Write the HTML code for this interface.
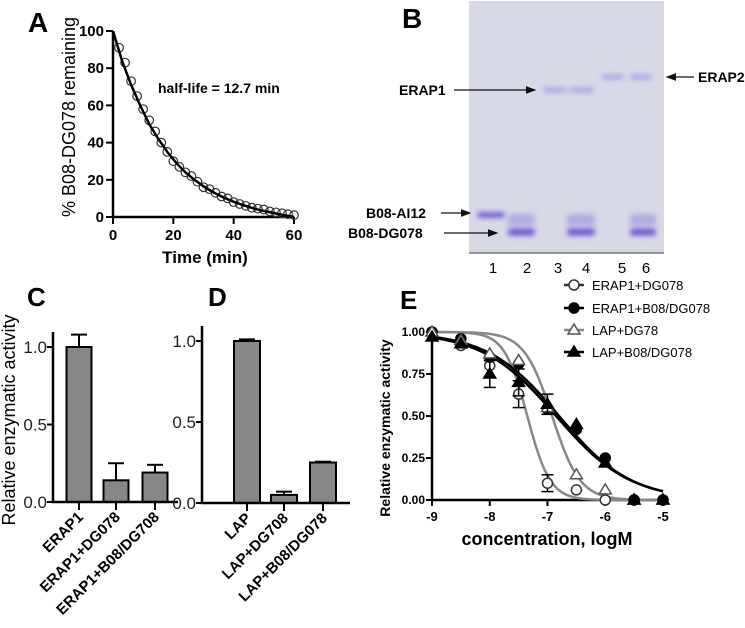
<!DOCTYPE html>
<html><head><meta charset="utf-8"><style>
html,body{margin:0;padding:0;background:#fff;}
svg{display:block;font-family:"Liberation Sans",Arial,sans-serif;}
</style></head><body>
<svg id="fig" width="745" height="628" viewBox="0 0 745 628">
<defs>
<filter id="blur" x="-30%" y="-100%" width="160%" height="300%"><feGaussianBlur stdDeviation="2.6"/></filter>
<marker id="arr" markerWidth="8" markerHeight="8" refX="7" refY="4" orient="auto"><path d="M0,1 L8,4 L0,7 Z" fill="#111"/></marker>
</defs>
<g id="panelA"></g>
<g id="panelB"></g>
<g id="panelC"></g>
<g id="panelD"></g>
<g id="panelE"></g>
</svg>
<script>
// ---- Panel A data ----
const aTimes = [2,4,6,8,10,12,14,16,18,20,22,24,26,28,30,32,34,36,38,40,42,44,46,48,50,52,54,56,58,60];
const aValues = [91,83,73,65,58,52,46,40,35,30,27,24,22,19,16,15,13,11,10,8,7,6,5,4.5,4,3,2.5,2,1.5,1];
const aFitT = [0,3,6,9,12,15,18,21,24,27,30,33,36,39,42,45,48,51,54,57,60];
const aFitV = [100,84,71,60,50,42,35,29,24,20,16.5,13.5,11,8.8,7,5.4,4,2.9,1.9,0.9,0];
const aXTicks = [0,20,40,60];
const aYTicks = [0,20,40,60,80,100];
// ---- Panel C/D data ----
const cCats = ["ERAP1","ERAP1+DG078","ERAP1+B08/DG708"];
const cVals = [1.0,0.14,0.19];
const cErr = [0.08,0.11,0.05];
const dCats = ["LAP","LAP+DG708","LAP+B08/DG078"];
const dVals = [1.0,0.05,0.25];
const dErr = [0.01,0.02,0.005];
const cdYTicks = [0,0.5,1.0];
const cdTickLabels = ["0.0","0.5","1.0"];
// ---- Panel E data ----
const eX = [-9,-8.5,-8,-7.5,-7,-6.5,-6,-5.5,-5];
const eErap1Dg = [1.0,0.92,0.80,0.63,0.10,0.06,0.0,0.0,0.0];
const eErap1Dg_err = [0,0,0,0.08,0.05,0,0,0,0];
const eErap1B08 = [1.0,0.96,0.85,0.81,0.54,0.42,0.25,0.0,0.0];
const eLapDg = [1.0,0.95,0.87,0.83,0.55,0.15,0.06,0.0,0.0];
const eLapB08 = [0.97,0.93,0.75,0.70,0.57,0.45,0.22,0.0,0.0];
const eLapB08_err = [0,0,0.08,0.08,0.06,0,0,0,0];
const eFitIC50 = [-7.35,-6.8,-6.92,-6.85];
const eFitHill = [2.2,0.7,1.8,0.68];
const eXTicks = [-9,-8,-7,-6,-5];
const eYTicks = [0,0.25,0.5,0.75,1.0];
const eYLabels = ["0.00","0.25","0.50","0.75","1.00"];

const NS="http://www.w3.org/2000/svg";
function mk(parent,tag,attrs,text){const e=document.createElementNS(NS,tag);for(const k in attrs)e.setAttribute(k,attrs[k]);if(text!==undefined)e.textContent=text;parent.appendChild(e);return e;}

// ===== Panel A =====
(function(){
const g=document.getElementById('panelA');
const x=v=>113+v*(294-113)/60, y=v=>217-v*(217-31)/100;
let t=mk(g,'text',{x:28,y:32,'font-size':28,'font-weight':'bold'},'A');

let ax=mk(g,'path',{d:`M113,31 L113,217 L294,217`,stroke:'#000','stroke-width':2.5,fill:'none'});

aYTicks.forEach(v=>{mk(g,'line',{x1:106,x2:113,y1:y(v),y2:y(v),stroke:'#000','stroke-width':2});
 let l=mk(g,'text',{x:104,y:y(v)+5,'text-anchor':'end','font-size':15,'font-weight':'bold'},v);
 });
aXTicks.forEach(v=>{mk(g,'line',{x1:x(v),x2:x(v),y1:217,y2:224,stroke:'#000','stroke-width':2});
 let l=mk(g,'text',{x:x(v),y:240,'text-anchor':'middle','font-size':15,'font-weight':'bold'},v);
 });
let xl=mk(g,'text',{x:205,y:263,'text-anchor':'middle','font-size':17,'font-weight':'bold'},'Time (min)');

let yl=mk(g,'text',{x:0,y:0,transform:'translate(75,117) rotate(-90)','text-anchor':'middle','font-size':18},'% B08-DG078 remaining');

aTimes.forEach((tt,i)=>{let c=mk(g,'circle',{cx:x(tt),cy:y(aValues[i]),r:4.3,fill:'none',stroke:'#333','stroke-width':1.2});
 });
let fit=mk(g,'polyline',{points:aFitT.map((tt,i)=>x(tt)+','+y(aFitV[i])).join(' '),fill:'none',stroke:'#000','stroke-width':2.5});

let hl=mk(g,'text',{x:158,y:93,'font-size':14,'font-weight':'bold'},'half-life = 12.7 min');

})();

// ===== Panel B (gel) =====
(function(){
const g=document.getElementById('panelB');
let bl=mk(g,'text',{x:402,y:28,'font-size':28,'font-weight':'bold'},'B');

let gel=mk(g,'rect',{x:469,y:1,width:195,height:252,fill:'#d7d9e6'});

mk(g,'line',{x1:469,x2:664,y1:253,y2:253,stroke:'#777','stroke-width':1.5});
const bands=[[477,215,28,5,'#5a3fcf',0.95],[508,232,27,7,'#6040d0',0.9],[567,232,28,7,'#6040d0',0.9],[630,232,26,7,'#6040d0',0.9],
[508,220,27,12,'#9a8ce0',0.6],[567,220,28,12,'#9a8ce0',0.6],[630,220,26,12,'#9a8ce0',0.6],
[543,90,24,4,'#8e86e6',0.8],[569,90,25,4,'#8e86e6',0.8],[602,77,22,4,'#8e86e6',0.8],[630,77,22,4,'#8e86e6',0.8]];
bands.forEach(b=>{let r=mk(g,'rect',{x:b[0],y:b[1]-b[3]/2,width:b[2],height:b[3],rx:3,fill:b[4],opacity:b[5],filter:'url(#blur)'});
 });
[['1',493],['2',527],['3',558],['4',586],['5',622],['6',646]].forEach(l=>{
 let t=mk(g,'text',{x:l[1],y:273,'text-anchor':'middle','font-size':15},l[0]);
 });
const labs=[['ERAP1',399,95,454,535],['B08-AI12',366,218,441,470],['B08-DG078',348,238,444,497]];
labs.forEach(l=>{let t=mk(g,'text',{x:l[1],y:l[2],'font-size':14,'font-weight':'bold'},l[0]);
 
 mk(g,'line',{x1:l[3],x2:l[4],y1:l[2]-5,y2:l[2]-5,stroke:'#111','stroke-width':1.3,'marker-end':'url(#arr)'});});
let e2=mk(g,'text',{x:698,y:82,'font-size':14,'font-weight':'bold'},'ERAP2');

mk(g,'line',{x1:694,x2:667,y1:77,y2:77,stroke:'#111','stroke-width':1.3,'marker-end':'url(#arr)'});
})();

// ===== Panels C & D =====
function barPanel(id,letter,lx,ax0,ax1,y0,y1,cats,vals,errs,centers,bw,ylab){
const g=document.getElementById(id);
const y=v=>y0-v*(y0-y1);
let pl=mk(g,'text',{x:lx,y:306,'font-size':26,'font-weight':'bold'},letter);

vals.forEach((v,i)=>{const cx=centers[i];
 mk(g,'line',{x1:cx,x2:cx,y1:y(v),y2:y(v+errs[i]),stroke:'#000','stroke-width':2});
 mk(g,'line',{x1:cx-8,x2:cx+8,y1:y(v+errs[i]),y2:y(v+errs[i]),stroke:'#000','stroke-width':2});
 let r=mk(g,'rect',{x:cx-bw/2,y:y(v),width:bw,height:y0-y(v),fill:'#878787',stroke:'#000','stroke-width':2});
 
 mk(g,'line',{x1:cx,x2:cx,y1:y0,y2:y0+8,stroke:'#000','stroke-width':2});
 let t=mk(g,'text',{x:0,y:0,transform:`translate(${cx+5},${y0+16}) rotate(-45)`,'text-anchor':'end','font-size':15,'font-weight':'bold'},cats[i]);
 });
let a=mk(g,'path',{d:`M${ax0},${y1-15} L${ax0},${y0} L${ax1},${y0}`,stroke:'#000','stroke-width':2.5,fill:'none'});

cdYTicks.forEach((v,i)=>{mk(g,'line',{x1:ax0-6,x2:ax0,y1:y(v),y2:y(v),stroke:'#000','stroke-width':2});
 let t=mk(g,'text',{x:ax0-6,y:y(v)+6,'text-anchor':'end','font-size':17,fill:'#222'},cdTickLabels[i]);
 });
if(ylab){let t=mk(g,'text',{x:0,y:0,transform:`translate(15,420) rotate(-90)`,'text-anchor':'middle','font-size':18},'Relative enzymatic activity');
 }
}
barPanel('panelC','C',27,53,178,502,347,cCats,cVals,cErr,[79,116,155],25,true);
barPanel('panelD','D',208,202,350,503,341,dCats,dVals,dErr,[247,284,323],26,false);

// ===== Panel E =====
(function(){
const g=document.getElementById('panelE');
const x=v=>432+(v+9)*(663-432)/4, y=v=>500-v*(500-332);
let pl=mk(g,'text',{x:400,y:309,'font-size':26,'font-weight':'bold'},'E');

let a=mk(g,'path',{d:`M432,330 L432,500 L663,500`,stroke:'#000','stroke-width':2.5,fill:'none'});

eYTicks.forEach((v,i)=>{mk(g,'line',{x1:426,x2:432,y1:y(v),y2:y(v),stroke:'#000','stroke-width':2});
 let t=mk(g,'text',{x:425,y:y(v)+4,'text-anchor':'end','font-size':12,'font-weight':'bold'},eYLabels[i]);
 });
eXTicks.forEach(v=>{mk(g,'line',{x1:x(v),x2:x(v),y1:500,y2:506,stroke:'#000','stroke-width':2});
 let t=mk(g,'text',{x:x(v),y:521,'text-anchor':'middle','font-size':13,'font-weight':'bold'},v);
 });
let xl=mk(g,'text',{x:547,y:545,'text-anchor':'middle','font-size':18,'font-weight':'bold'},'concentration, logM');

let yl=mk(g,'text',{x:0,y:0,transform:'translate(390,428) rotate(-90)','text-anchor':'middle','font-size':14,'font-weight':'bold'},'Relative enzymatic activity');

const colors=['#888','#000','#888','#000'];
for(let s=0;s<4;s++){let pts=[];for(let k=0;k<=80;k++){const xv=-9+k*0.05;const yv=1/(1+Math.pow(10,(xv-eFitIC50[s])*eFitHill[s]));pts.push(x(xv)+','+y(yv));}
 let p=mk(g,'polyline',{points:pts.join(' '),fill:'none',stroke:colors[s],'stroke-width':2.5});
 }
const series=[[eErap1Dg,eErap1Dg_err,'circle',false,'#333'],[eErap1B08,null,'circle',true,'#000'],[eLapDg,null,'tri',false,'#555'],[eLapB08,eLapB08_err,'tri',true,'#000']];
function marker(cx,cy,type,filled,col){
 if(type==='circle')return mk(g,'circle',{cx:cx,cy:cy,r:5,fill:filled?'#000':'#fff',stroke:col,'stroke-width':1.5});
 return mk(g,'path',{d:`M${cx},${cy-6} L${cx+6},${cy+4} L${cx-6},${cy+4} Z`,fill:filled?'#000':'#fff',stroke:col,'stroke-width':1.5});}
series.forEach(s=>{eX.forEach((xv,i)=>{const cx=x(xv),cy=y(s[0][i]);
 if(s[1]&&s[1][i]>0){const e=s[1][i];mk(g,'line',{x1:cx,x2:cx,y1:y(s[0][i]+e),y2:y(s[0][i]-e),stroke:'#000','stroke-width':1.5});
  [s[0][i]+e,s[0][i]-e].forEach(v=>mk(g,'line',{x1:cx-6,x2:cx+6,y1:y(v),y2:y(v),stroke:'#000','stroke-width':1.5}));}
 let m=marker(cx,cy,s[2],s[3],s[4]);});});
const leg=[['ERAP1+DG078',285,'circle',false,'#333','#333'],['ERAP1+B08/DG078',308,'circle',true,'#000','#000'],['LAP+DG78',330,'tri',false,'#555','#888'],['LAP+B08/DG078',352,'tri',true,'#000','#000']];
leg.forEach(l=>{let lg=mk(g,'g',{});
 mk(lg,'line',{x1:564,x2:584,y1:l[1],y2:l[1],stroke:l[5],'stroke-width':2.5});
 const m=marker(574,l[1],l[2],l[3],l[4]);lg.appendChild(m);
 mk(lg,'text',{x:592,y:l[1]+5,'font-size':13},l[0]);});
})();
</script>
</body></html>
